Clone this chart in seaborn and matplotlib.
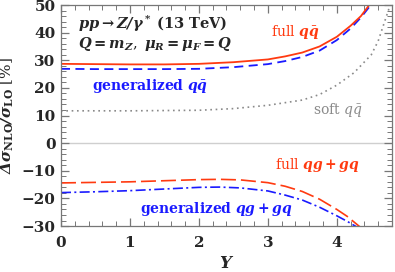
import numpy as np
import pandas as pd
import matplotlib
matplotlib.use('Agg')
import matplotlib.pyplot as plt
import matplotlib.ticker as mtick
import seaborn as sns

# values
y_full_qq = [0, 0.5, 1, 1.5, 2, 2.5, 3, 3.25, 3.5, 3.75, 4.0, 4.2, 4.35, 4.47, 4.55]
full_qq = [28.7, 28.6, 28.5, 28.5, 28.7, 29.3, 30.3, 31.4, 32.8, 35.0, 38.5, 42.5, 46.0, 50.0, 52.5]

y_gen_qq = [0, 0.5, 1, 1.5, 2, 2.5, 3, 3.25, 3.5, 3.75, 4.0, 4.2, 4.35, 4.47, 4.55]
gen_qq = [26.9, 26.8, 26.8, 26.8, 26.9, 27.5, 28.6, 29.7, 31.2, 33.5, 37.3, 41.5, 45.5, 49.3, 52.0]

y_soft_qq = [0, 1, 2, 2.5, 3, 3.5, 3.75, 4.0, 4.25, 4.5, 4.6, 4.7, 4.8]
soft_qq = [11.7, 11.7, 11.9, 12.5, 13.7, 15.6, 17.6, 21.0, 25.5, 32.0, 37.0, 44.5, 52.0]

y_full_qg = [0, 0.5, 1, 1.5, 2, 2.3, 2.6, 3, 3.25, 3.5, 3.75, 4.0, 4.15, 4.32, 4.4]
full_qg = [-14.4, -14.2, -14.0, -13.6, -13.2, -13.1, -13.3, -14.3, -15.6, -17.5, -20.3, -24.0, -26.5, -30.0, -31.5]

y_gen_qg = [0, 0.5, 1, 1.5, 2, 2.3, 2.6, 3, 3.25, 3.5, 3.75, 4.0, 4.15, 4.3, 4.4]
gen_qg = [-17.9, -17.6, -17.2, -16.6, -16.0, -15.9, -16.2, -17.3, -18.8, -20.6, -23.2, -26.3, -28.3, -30.5, -32.0]

red = '#ff3a10'
blue = '#1a1aff'
grey = '#8a8a8a'

sns.set_style('ticks')
plt.rcParams['mathtext.fontset'] = 'custom'
plt.rcParams['mathtext.rm'] = 'DejaVu Serif'
plt.rcParams['mathtext.it'] = 'DejaVu Serif:italic'
plt.rcParams['mathtext.bf'] = 'DejaVu Serif:bold'
plt.rcParams['mathtext.bfit'] = 'DejaVu Serif:bold:italic'
plt.rcParams['font.family'] = ['DejaVu Serif']

fig = plt.figure(figsize=(3.95, 2.72), dpi=100)
ax = fig.add_axes([0.1544, 0.169, 0.8380, 0.8126])

ax.axhline(0, color='#cfcfcf', lw=1.0, zorder=0)

sns.lineplot(x=y_soft_qq, y=soft_qq, ax=ax, color=grey, lw=1.2, linestyle=(0, (1, 2.2)), sort=False)
sns.lineplot(x=y_gen_qq, y=gen_qq, ax=ax, color=blue, lw=1.3, linestyle=(0, (5, 3)), sort=False)
sns.lineplot(x=y_full_qq, y=full_qq, ax=ax, color=red, lw=1.3, sort=False)
sns.lineplot(x=y_full_qg, y=full_qg, ax=ax, color=red, lw=1.2, linestyle=(0, (9, 3)), sort=False)
sns.lineplot(x=y_gen_qg, y=gen_qg, ax=ax, color=blue, lw=1.2, linestyle=(0, (6, 2, 1.2, 2)), sort=False)

ax.set_xlim(0, 4.8)
ax.set_ylim(-30, 50)
ax.xaxis.set_major_locator(mtick.MultipleLocator(1))
ax.xaxis.set_minor_locator(mtick.MultipleLocator(0.2))
ax.yaxis.set_major_locator(mtick.MultipleLocator(10))
ax.yaxis.set_minor_locator(mtick.MultipleLocator(2))
ax.xaxis.set_major_formatter(mtick.FuncFormatter(lambda v, p: '%d' % round(v)))
ax.yaxis.set_major_formatter(mtick.FuncFormatter(lambda v, p: '\u2212%d' % -round(v) if v < 0 else '%d' % round(v)))
ax.tick_params(which='both', direction='in', top=True, right=True, color='#777777', labelsize=11)
ax.tick_params(axis='x', pad=7)
ax.tick_params(axis='y', pad=4)
ax.tick_params(which='major', length=6, width=0.9)
ax.tick_params(which='minor', length=3.5, width=0.7)
for lab in ax.get_xticklabels() + ax.get_yticklabels():
    lab.set_fontweight('bold')
for s in ax.spines.values():
    s.set_color('#777777')
    s.set_linewidth(0.9)

ax.set_xlabel(r'$\mathbfit{Y}$', fontsize=12, labelpad=4)
ax.set_ylabel(r'$\mathbfit{\Delta\sigma}_{\mathbf{NLO}}\mathbfit{/\sigma}_{\mathbf{LO}}\ \mathrm{[\%]}$', fontsize=11, labelpad=4)

ax.text(0.25, 41.2, r'$\mathbfit{pp\rightarrow Z/\gamma^*}\ \mathbf{(13\ TeV)}$', fontsize=10.5, va='baseline', ha='left')
ax.text(0.25, 34.5, r'$\mathbfit{Q=m_Z},\ \mathbfit{\mu_R=\mu_F=Q}$', fontsize=10.5, va='baseline', ha='left')
ax.text(3.04, 38.9, r'$\mathrm{full}\ \mathbfit{q\bar{q}}$', color=red, fontsize=10, va='baseline', ha='left')
ax.text(0.45, 19.2, r'$\mathbf{generalized}\ \mathbfit{q\bar{q}}$', color=blue, fontsize=10, va='baseline', ha='left')
ax.text(3.65, 10.6, r'$\mathrm{soft}\ \mathit{q\bar{q}}$', color=grey, fontsize=10, va='baseline', ha='left')
ax.text(3.11, -9.5, r'$\mathrm{full}\ \mathbfit{qg+gq}$', color=red, fontsize=10, va='baseline', ha='left')
ax.text(1.15, -25.2, r'$\mathbf{generalized}\ \mathbfit{qg+gq}$', color=blue, fontsize=10, va='baseline', ha='left')

fig.savefig('out.png', dpi=100)
